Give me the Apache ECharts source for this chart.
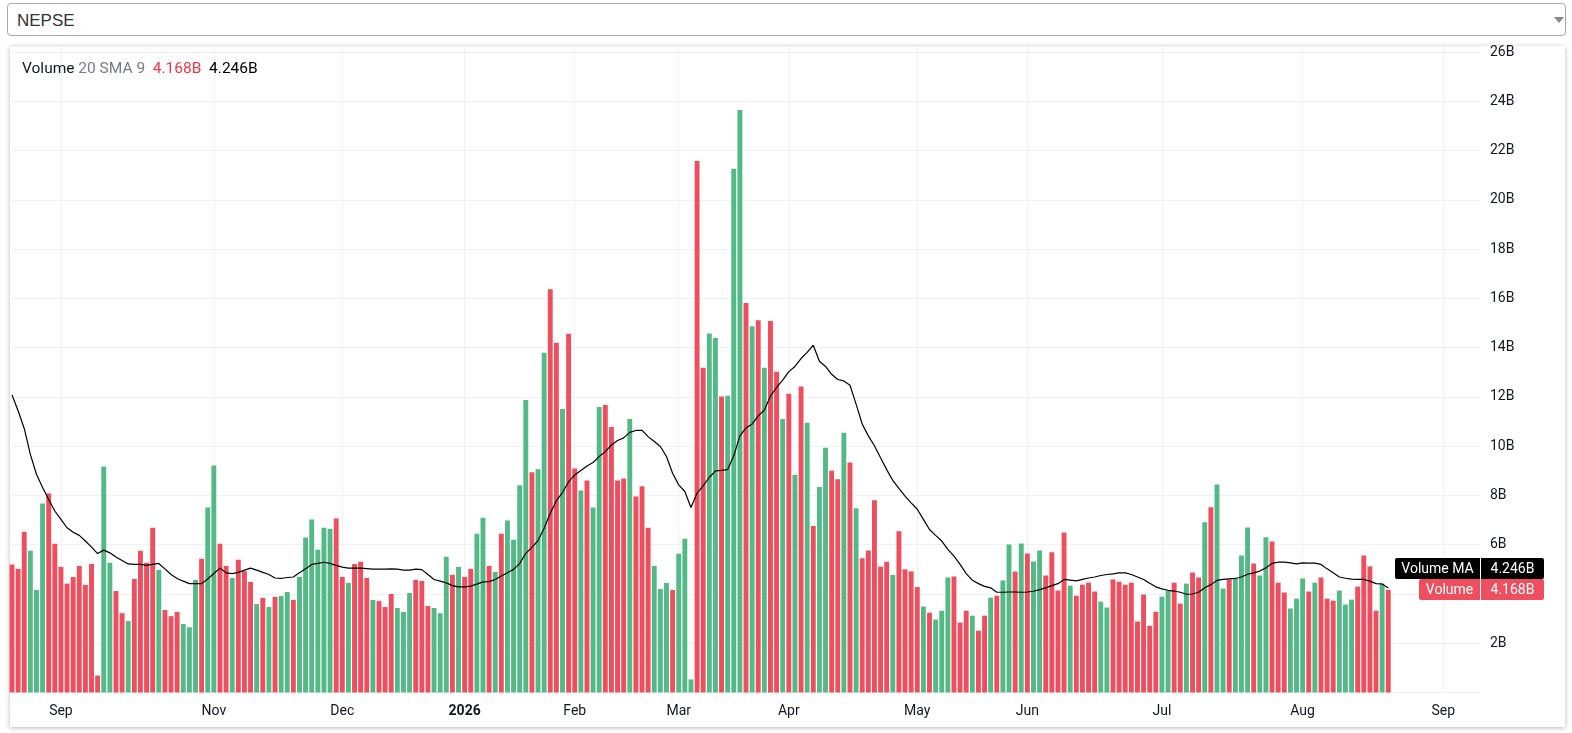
<!DOCTYPE html>
<html>
<head>
<meta charset="utf-8">
<script src="https://cdn.jsdelivr.net/npm/echarts@6.0.0/dist/echarts.min.js"></script>
<style>
html,body{margin:0;padding:0;background:#fff;width:1572px;height:733px;overflow:hidden;}
#hdr{position:absolute;left:7px;top:3px;width:1557px;height:31px;border:1px solid #a9a9a9;border-radius:4px;background:#fff;font-family:"Liberation Sans",Arial,sans-serif;font-size:17px;color:#333;line-height:31px;}
#hdr span{position:absolute;left:9px;top:1px;}
#tri{position:absolute;left:1546px;top:13px;width:0;height:0;border-left:5px solid transparent;border-right:5px solid transparent;border-top:6px solid #888;}
#panel{position:absolute;left:10px;top:46px;width:1555px;height:681px;background:#fff;box-shadow:0 1px 5px rgba(0,0,0,0.28);}
#chart{position:absolute;left:0;top:0;width:1572px;height:733px;}
</style>
</head>
<body>
<div id="hdr"><span>NEPSE</span><div id="tri"></div></div>
<div id="panel"></div>
<div id="chart"></div>
<script>
// ---- data (billions) ----
const volumes = [
 5.20,5.02,6.53,5.76,4.16,7.67,8.08,6.04,5.10,4.42,
 4.69,5.14,4.37,5.22,0.69,9.18,5.27,4.12,3.22,2.90,
 4.61,5.76,5.27,6.69,4.98,3.35,3.10,3.27,2.78,2.65,
 4.57,5.43,7.51,9.22,6.04,5.14,4.65,5.39,4.93,4.49,
 3.59,3.84,3.47,3.88,3.92,4.08,3.76,4.69,6.29,7.02,
 5.80,6.69,6.65,7.06,4.69,4.45,5.22,5.31,4.65,3.76,
 3.71,3.47,4.00,3.43,3.27,4.04,4.57,4.53,3.51,3.43,
 3.22,5.51,4.78,5.10,4.69,5.02,6.45,7.10,5.14,4.90,
 6.45,6.98,6.20,8.41,11.88,8.94,9.06,13.80,16.37,14.20,
 11.51,14.57,9.10,8.20,8.61,7.51,11.59,11.67,10.78,8.61,
 8.69,11.10,7.96,8.37,6.69,5.14,4.20,4.45,4.16,5.63,
 6.24,0.53,21.58,13.19,14.58,14.39,12.02,12.05,21.27,23.65,
 15.81,14.87,15.11,13.19,15.08,13.02,11.11,12.13,8.84,12.42,
 10.95,6.76,8.34,9.94,9.00,8.66,10.55,9.34,7.48,5.45,
 5.77,7.81,5.11,5.31,4.77,6.55,5.00,4.92,4.28,3.49,
 3.24,2.96,3.32,4.67,4.71,2.84,3.32,3.12,2.51,3.12,
 3.85,3.93,4.55,6.01,4.91,6.05,5.64,5.32,5.77,4.75,
 5.69,4.14,6.50,4.34,3.93,4.38,4.46,4.10,3.69,3.45,
 4.59,4.50,4.38,4.46,2.88,3.98,2.71,3.28,3.89,4.14,
 4.46,3.61,4.42,4.87,4.67,6.91,7.52,8.45,4.22,4.59,
 4.63,5.56,6.70,5.24,4.75,6.30,6.13,4.46,4.06,3.41,
 3.81,4.63,4.10,4.46,4.67,3.81,3.73,4.14,3.57,3.77,
 4.30,5.56,5.12,3.32,4.42,4.168
];
// 1 = up day (green), 0 = down day (red)
const upDay = [
 0,0,0,1,1,1,0,0,0,0,
 0,0,0,0,0,1,1,0,0,1,
 0,0,0,0,1,0,0,0,1,1,
 1,0,1,1,0,0,1,0,0,0,
 1,0,1,0,1,1,0,1,1,1,
 1,1,1,0,0,1,0,0,0,1,
 0,0,0,1,1,1,0,0,0,1,
 1,1,0,1,0,0,1,1,0,1,
 0,1,1,1,1,0,1,1,0,0,
 1,0,0,1,0,1,1,0,0,0,
 0,1,0,0,0,1,1,1,0,1,
 1,1,0,0,1,1,0,1,1,1,
 0,1,0,1,0,0,1,0,1,0,
 1,0,1,1,0,0,1,0,1,0,
 0,0,0,0,1,0,0,0,0,1,
 0,1,1,1,0,0,0,1,0,0,
 1,0,1,1,0,1,0,1,1,0,
 0,0,0,1,0,0,0,0,1,1,
 0,0,0,0,0,0,0,0,1,1,
 0,0,1,0,0,1,0,1,1,0,
 1,1,1,0,1,1,0,0,0,1,
 1,1,0,1,0,0,0,1,1,1,
 0,0,0,0,1,0
];
const volumeMA = [
 12.08,11.44,10.72,9.67,8.86,8.32,7.84,7.37,7.03,6.69,
 6.51,6.38,6.15,5.90,5.64,5.78,5.67,5.50,5.36,5.22,
 5.20,5.20,5.16,5.20,5.24,5.02,4.79,4.63,4.52,4.42,
 4.42,4.42,4.61,4.83,5.05,4.86,4.83,4.88,4.97,5.05,
 4.97,4.88,4.79,4.65,4.63,4.67,4.69,4.86,5.02,5.20,
 5.24,5.29,5.24,5.16,5.09,5.05,5.05,5.05,5.03,5.01,
 5.01,5.01,5.02,5.01,4.97,4.97,5.01,4.99,4.79,4.59,
 4.52,4.45,4.34,4.29,4.29,4.32,4.40,4.49,4.50,4.59,
 4.73,4.86,5.00,5.24,5.65,5.89,6.17,6.67,7.28,7.79,
 8.12,8.56,8.83,9.01,9.20,9.34,9.58,9.78,10.05,10.23,
 10.34,10.56,10.64,10.64,10.39,10.19,9.99,9.58,8.90,8.43,
 8.16,7.51,8.09,8.40,8.73,9.00,9.02,9.05,9.61,10.42,
 10.74,10.90,11.23,11.47,12.03,12.39,12.68,13.03,13.24,13.56,
 13.81,14.10,13.45,13.24,12.92,12.71,12.65,12.48,11.71,10.90,
 10.42,10.02,9.53,9.05,8.61,8.29,7.97,7.70,7.44,7.03,
 6.62,6.38,6.15,5.81,5.54,5.20,4.83,4.56,4.42,4.31,
 4.25,4.07,4.07,4.08,4.08,4.07,4.08,4.11,4.18,4.25,
 4.34,4.42,4.59,4.56,4.53,4.59,4.65,4.69,4.75,4.79,
 4.82,4.86,4.86,4.79,4.69,4.59,4.44,4.29,4.21,4.15,
 4.12,4.07,3.99,4.00,4.07,4.25,4.38,4.55,4.59,4.61,
 4.63,4.69,4.80,4.86,4.93,5.06,5.24,5.29,5.29,5.26,
 5.22,5.26,5.25,5.25,5.20,5.02,4.86,4.69,4.64,4.60,
 4.59,4.59,4.52,4.42,4.41,4.246
];
// time axis: bar slots (traded days + empty future slots) and month-start labels
const totalSlots = 241;
const monthStartIndex = [8, 33, 54, 74, 92, 109, 127, 148, 166, 188, 211, 234];
const monthStartLabel = ['Sep','Nov','Dec','2026','Feb','Mar','Apr','May','Jun','Jul','Aug','Sep'];

// ---- build ----
const UP = '#53b987', DOWN = '#ee4e5d';
const FONT = 'Roboto, "Noto Sans", sans-serif';
const TXT = '#131722';
const categories = [];
for (let i = 0; i < totalSlots; i++) categories.push(' ' + i);
const labelAt = {};
monthStartIndex.forEach((idx, k) => { labelAt[idx] = monthStartLabel[k]; });
const barData = volumes.map((v, i) => ({ value: v, itemStyle: { color: upDay[i] ? UP : DOWN } }));
const lastVol = volumes[volumes.length - 1];
const lastMA = volumeMA[volumeMA.length - 1];
const fmtB = v => v.toFixed(3) + 'B';

const chart = echarts.init(document.getElementById('chart'), null, { renderer: 'canvas' });
chart.setOption({
  animation: false,
  backgroundColor: 'transparent',
  textStyle: { fontFamily: FONT },
  title: {
    left: 22, top: 61, padding: 0,
    text: '{a|Volume} {b|20 SMA 9}  {c|' + fmtB(lastVol) + '}  {d|' + fmtB(lastMA) + '}',
    textStyle: {
      fontSize: 15.5, fontWeight: 'normal',
      rich: {
        a: { color: TXT, fontSize: 15.5, fontFamily: FONT },
        b: { color: '#787b86', fontSize: 15.5, fontFamily: FONT },
        c: { color: '#f23645', fontSize: 15.5, fontFamily: FONT },
        d: { color: '#000000', fontSize: 15.5, fontFamily: FONT }
      }
    }
  },
  grid: { left: 12, right: 92, top: 46, bottom: 40.5, outerBoundsMode: 'none', containLabel: false },
  xAxis: {
    type: 'category',
    data: categories,
    boundaryGap: false,
    axisLine: { show: false },
    axisTick: { show: false },
    axisLabel: {
      interval: (idx) => labelAt[idx] !== undefined,
      formatter: (val, idx) => {
        const t = labelAt[idx];
        if (t === undefined) return '';
        return /^\d{4}$/.test(t) ? '{y|' + t + '}' : t;
      },
      color: TXT, fontSize: 14, fontFamily: FONT, margin: 12,
      rich: { y: { fontWeight: 'bold', color: TXT, fontSize: 14, fontFamily: FONT } }
    },
    splitLine: {
      show: true,
      interval: (idx) => labelAt[idx] !== undefined,
      lineStyle: { color: '#f0f1f4', width: 1 }
    }
  },
  yAxis: {
    type: 'value',
    position: 'right',
    min: 0, max: 26.25, interval: 2,
    axisLine: { show: false },
    axisTick: { show: false },
    axisLabel: {
      color: TXT, fontSize: 14, fontFamily: FONT, margin: 10, padding: [3, 0, 0, 0],
      formatter: v => (v > 0 && Math.abs(v / 2 - Math.round(v / 2)) < 1e-6) ? (Math.round(v) + 'B') : ''
    },
    splitLine: { show: true, lineStyle: { color: '#f0f1f4', width: 1 } }
  },
  series: [
    {
      type: 'bar', data: barData, barWidth: '80%',
      itemStyle: { borderWidth: 0 }, emphasis: { disabled: true }, z: 2
    },
    {
      type: 'line', data: volumeMA, showSymbol: false, symbol: 'none', smooth: false,
      lineStyle: { color: '#000000', width: 1.2 }, emphasis: { disabled: true }, z: 3
    }
  ]
});

// price tags on the right scale, placed through the axis scale
const yVol = chart.convertToPixel({ yAxisIndex: 0 }, lastVol);
const H = 21;
const redTop = Math.round(yVol - H / 2);
const maTop = redTop - H;
function txt(x, y, s) {
  return { type: 'text', z: 101, x: x, y: y,
    style: { text: s, fill: '#ffffff', font: '14px ' + FONT, align: 'center', verticalAlign: 'middle', textAlign: 'center', textVerticalAlign: 'middle' } };
}
chart.setOption({
  graphic: [
    { type: 'rect', z: 100, shape: { x: 1395, y: maTop, width: 85, height: H, r: [2, 0, 0, 2] }, style: { fill: '#000000' } },
    { type: 'rect', z: 100, shape: { x: 1481, y: maTop, width: 63, height: H, r: [0, 2, 2, 0] }, style: { fill: '#000000' } },
    { type: 'rect', z: 100, shape: { x: 1419, y: redTop, width: 61, height: H, r: [2, 0, 0, 2] }, style: { fill: DOWN } },
    { type: 'rect', z: 100, shape: { x: 1481, y: redTop, width: 63, height: H, r: [0, 2, 2, 0] }, style: { fill: DOWN } },
    txt(1437.5, maTop + H / 2 + 0.5, 'Volume MA'),
    txt(1512.5, maTop + H / 2 + 0.5, fmtB(lastMA)),
    txt(1449.5, redTop + H / 2 + 0.5, 'Volume'),
    txt(1512.5, redTop + H / 2 + 0.5, fmtB(lastVol))
  ]
});
</script>
</body>
</html>
